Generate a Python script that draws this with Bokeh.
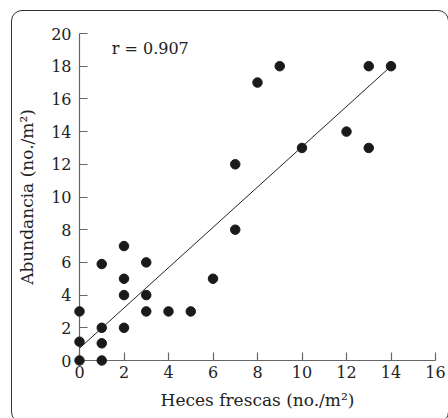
from bokeh.plotting import figure
from bokeh.models import Range1d, Label, FixedTicker, InlineStyleSheet
from bokeh.embed import file_html
from bokeh.resources import INLINE

# Data
heces = [0, 0, 0, 1, 1, 1, 1, 2, 2, 2, 2, 3, 3, 3, 4, 5, 6, 7, 7, 8, 9, 10, 12, 13, 13, 14]
abund = [0, 1.15, 3, 0, 1.05, 2, 5.9, 2, 4, 5, 7, 3, 4, 6, 3, 3, 5, 8, 12, 17, 18, 13, 14, 13, 18, 18]
fit_x = [0, 14]
fit_y = [0.75, 18.0]
x_ticks = [0, 2, 4, 6, 8, 10, 12, 14, 16]
y_ticks = [0, 2, 4, 6, 8, 10, 12, 14, 16, 18, 20]
r_text = "r = 0.907"

FONT = "DejaVu Serif"

p = figure(width=448, height=418, output_backend="svg", toolbar_location=None,
           x_range=Range1d(0, 16), y_range=Range1d(0, 20),
           min_border_left=79, min_border_right=13, min_border_top=33, min_border_bottom=58)
p.background_fill_color = "white"
p.border_fill_color = "white"
p.outline_line_color = None
p.grid.visible = False

for ax in (p.xaxis[0], p.yaxis[0]):
    ax.axis_line_color = "#666666"
    ax.axis_line_width = 1.2
    ax.major_tick_line_color = "#666666"
    ax.major_tick_line_width = 1.2
    ax.major_tick_in = 8
    ax.major_tick_out = 0
    ax.minor_tick_line_color = None
    ax.major_label_text_font = FONT
    ax.major_label_text_font_size = "16px"
    ax.major_label_text_color = "#222222"
    ax.axis_label_text_font = FONT
    ax.axis_label_text_font_size = "17px"
    ax.axis_label_text_font_style = "normal"
    ax.axis_label_text_color = "#222222"

p.xaxis.ticker = FixedTicker(ticks=x_ticks)
p.yaxis.ticker = FixedTicker(ticks=y_ticks)
p.xaxis.axis_label = "Heces frescas (no./m²)"
p.yaxis.axis_label = "Abundancia (no./m²)"
p.xaxis.major_label_standoff = 5
p.yaxis.major_label_standoff = 8
p.xaxis.axis_label_standoff = 9
p.yaxis.axis_label_standoff = 11

p.line(fit_x, fit_y, line_color="#222222", line_width=1, level="overlay")
p.scatter(heces, abund, size=9.5, fill_color="#1a1a1a", line_color="#1a1a1a", level="overlay")

p.add_layout(Label(x=1.45, y=19.1, text=r_text, text_font=FONT, text_font_size="16px",
                   text_color="#222222", text_baseline="middle", text_align="left"))

css = """
:host { position: relative; overflow: hidden; }
:host::after {
  content: "";
  position: absolute;
  left: 11px; top: 10px; width: 438px; height: 413px;
  border: 1.3px solid #333333;
  border-radius: 11px;
  box-sizing: border-box;
  pointer-events: none;
}
"""
p.stylesheets = [InlineStyleSheet(css=css)]

open("out.html", "w").write(file_html(p, INLINE))
